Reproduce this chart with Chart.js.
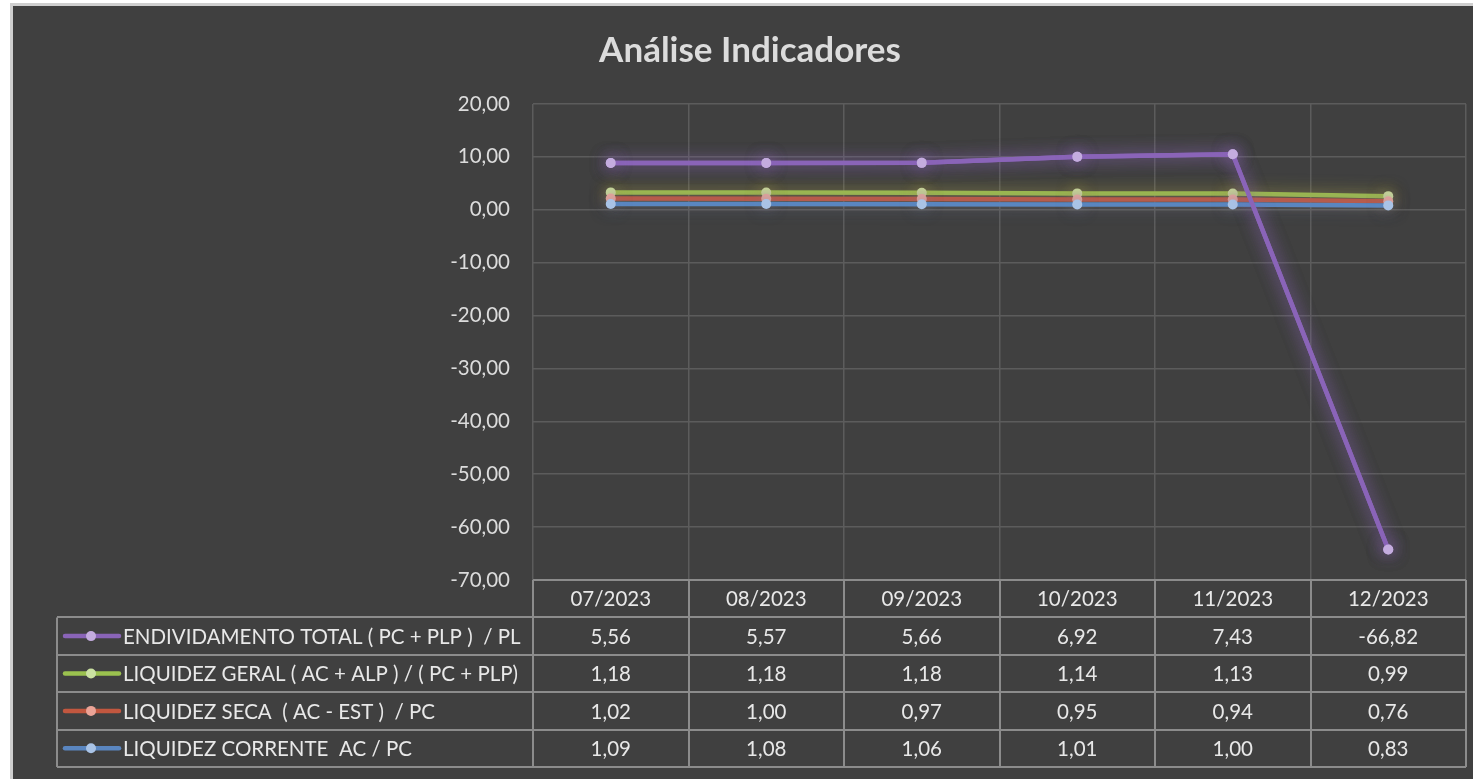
<!DOCTYPE html>
<html><head><meta charset="utf-8">
<script src="https://cdn.jsdelivr.net/npm/chart.js@4.4.0/dist/chart.umd.min.js"></script>
<style>html,body{margin:0;padding:0;background:#fff;overflow:hidden}#wrap{position:absolute;left:0;top:0;width:1473px;height:779px}</style>
</head><body><div id="wrap"><canvas id="c" width="1473" height="779"></canvas></div>
<script>
const categories = ['07/2023','08/2023','09/2023','10/2023','11/2023','12/2023'];
const endividamentoTotal = [5.56, 5.57, 5.66, 6.92, 7.43, -66.82];
const liquidezGeral = [1.18, 1.18, 1.18, 1.14, 1.13, 0.99];
const liquidezSeca = [1.02, 1.00, 0.97, 0.95, 0.94, 0.76];
const liquidezCorrente = [1.09, 1.08, 1.06, 1.01, 1.00, 0.83];
const seriesNames = ['LIQUIDEZ CORRENTE  AC / PC', 'LIQUIDEZ SECA  ( AC - EST )  / PC', 'LIQUIDEZ GERAL ( AC + ALP ) / ( PC + PLP)', 'ENDIVIDAMENTO TOTAL ( PC + PLP )  / PL'];
const yMin = -70, yMax = 20, yStep = 10;

const FONT = 'Lato, "Open Sans", sans-serif';
const fmt = v => v.toFixed(2).replace('.', ',');

const styles = [
  {line:'#5a86c0', point:'#a9c3e6', glow:'rgba(90,134,192,0.55)'},
  {line:'#c2573f', point:'#eba497', glow:'rgba(194,87,63,0.5)'},
  {line:'#9bc24f', point:'#cbe2a2', glow:'rgba(190,210,60,0.6)'},
  {line:'#8a64b8', point:'#c4acdf', glow:'rgba(138,100,184,0.6)'}
];
const seriesData = [liquidezCorrente, liquidezSeca, liquidezGeral, endividamentoTotal];

const datasets = seriesData.map((d, i) => ({
  label: seriesNames[i], data: d,
  borderColor: styles[i].line, backgroundColor: styles[i].point,
  pointBackgroundColor: styles[i].point, pointBorderColor: styles[i].point,
  borderWidth: 4.5, pointRadius: 5, pointBorderWidth: 0, tension: 0, fill: false
}));

const bgPlugin = {
  id: 'bg',
  afterLayout(chart) {
    if (chart.titleBlock) { chart.titleBlock.left = 34; }
  },
  beforeDraw(chart) {
    const c = chart.ctx;
    c.save();
    c.fillStyle = '#ffffff'; c.fillRect(0, 0, chart.width, chart.height);
    c.fillStyle = '#cfcfcf'; c.fillRect(10, 3, chart.width - 10, chart.height - 3);
    c.fillStyle = '#404040'; c.fillRect(13, 6, chart.width - 13, chart.height - 6);
    c.restore();
  }
};

const glowPlugin = {
  id: 'glow',
  beforeDatasetDraw(chart, args) {
    const c = chart.ctx; c.save();
    c.shadowColor = styles[args.index].glow; c.shadowBlur = 16;
  },
  afterDatasetDraw(chart) { chart.ctx.restore(); },
  afterDatasetsDraw(chart) {
    const meta = chart.getDatasetMeta(3);
    const c = chart.ctx; c.save();
    c.beginPath(); c.rect(chart.chartArea.left, chart.chartArea.top - 10, chart.chartArea.width, chart.chartArea.height + 20); c.clip();
    c.shadowColor = styles[3].glow; c.shadowBlur = 16;
    meta.controller.draw();
    c.restore();
  }
};

const tablePlugin = {
  id: 'table',
  afterDraw(chart) {
    const c = chart.ctx, x = chart.scales.x, area = chart.chartArea;
    const half = (x.getPixelForValue(1) - x.getPixelForValue(0)) / 2;
    const top = area.bottom, rowH = 37.4, nRows = 5;
    const leftX = 57, rightX = area.right;
    const bottom = top + rowH * nRows;
    c.save();
    c.strokeStyle = '#8c8c8c'; c.lineWidth = 2;
    for (let r = 0; r <= nRows; r++) {
      const y = Math.round(top + r * rowH);
      c.beginPath(); c.moveTo(r === 0 ? area.left : leftX, y); c.lineTo(rightX, y); c.stroke();
    }
    c.beginPath(); c.moveTo(leftX, top + rowH); c.lineTo(leftX, bottom); c.stroke();
    for (let i = 0; i <= categories.length; i++) {
      const xx = Math.round(i < categories.length ? x.getPixelForValue(i) - half : x.getPixelForValue(categories.length - 1) + half);
      c.beginPath(); c.moveTo(xx, top); c.lineTo(xx, bottom); c.stroke();
    }
    c.fillStyle = '#e8e8e8'; c.font = '20.5px ' + FONT;
    c.textAlign = 'center'; c.textBaseline = 'middle';
    categories.forEach((cat, i) => c.fillText(cat, x.getPixelForValue(i), top + rowH / 2 + 1));
    const rowOrder = [3, 2, 1, 0];
    rowOrder.forEach((s, r) => {
      const yc = top + rowH * (r + 1) + rowH / 2 + 1;
      seriesData[s].forEach((v, i) => {
        c.textAlign = 'center';
        c.fillText(fmt(v), x.getPixelForValue(i), yc);
      });
      c.strokeStyle = styles[s].line; c.lineWidth = 4.5; c.lineCap = 'round';
      c.beginPath(); c.moveTo(65, yc - 1); c.lineTo(119, yc - 1); c.stroke();
      c.fillStyle = styles[s].point;
      c.beginPath(); c.arc(91, yc - 1, 5, 0, Math.PI * 2); c.fill();
      c.fillStyle = '#e8e8e8'; c.textAlign = 'left';
      c.fillText(seriesNames[s], 123, yc);
    });
    c.restore();
  }
};

new Chart(document.getElementById('c'), {
  type: 'line',
  data: { labels: categories, datasets },
  plugins: [bgPlugin, glowPlugin, tablePlugin],
  options: {
    responsive: false, animation: false, events: [],
    layout: { padding: { left: 0, right: 7, top: 0, bottom: 0 } },
    plugins: {
      legend: { display: false }, tooltip: { enabled: false },
      title: { display: true, text: 'Análise Indicadores', color: '#dcdcdc',
        font: { family: FONT, size: 35, weight: 'bold', lineHeight: 1.2 },
        padding: { top: 30, bottom: 32 } }
    },
    scales: {
      x: { offset: true, grid: { offset: true, color: '#5c5c5c', lineWidth: 1.5, drawTicks: false },
        border: { display: false }, ticks: { display: false },
        afterFit: s => { s.height = 199; } },
      y: { stacked: 'single', min: yMin, max: yMax,
        grid: { color: '#5c5c5c', lineWidth: 1.5, drawTicks: false }, border: { display: false },
        ticks: { stepSize: yStep, color: '#dcdcdc', padding: 23, font: { family: FONT, size: 20.5 }, callback: v => fmt(v) },
        afterFit: s => { s.width = 533; s.paddingTop = 0; s.paddingBottom = 0; } }
    }
  }
});
</script></body></html>
